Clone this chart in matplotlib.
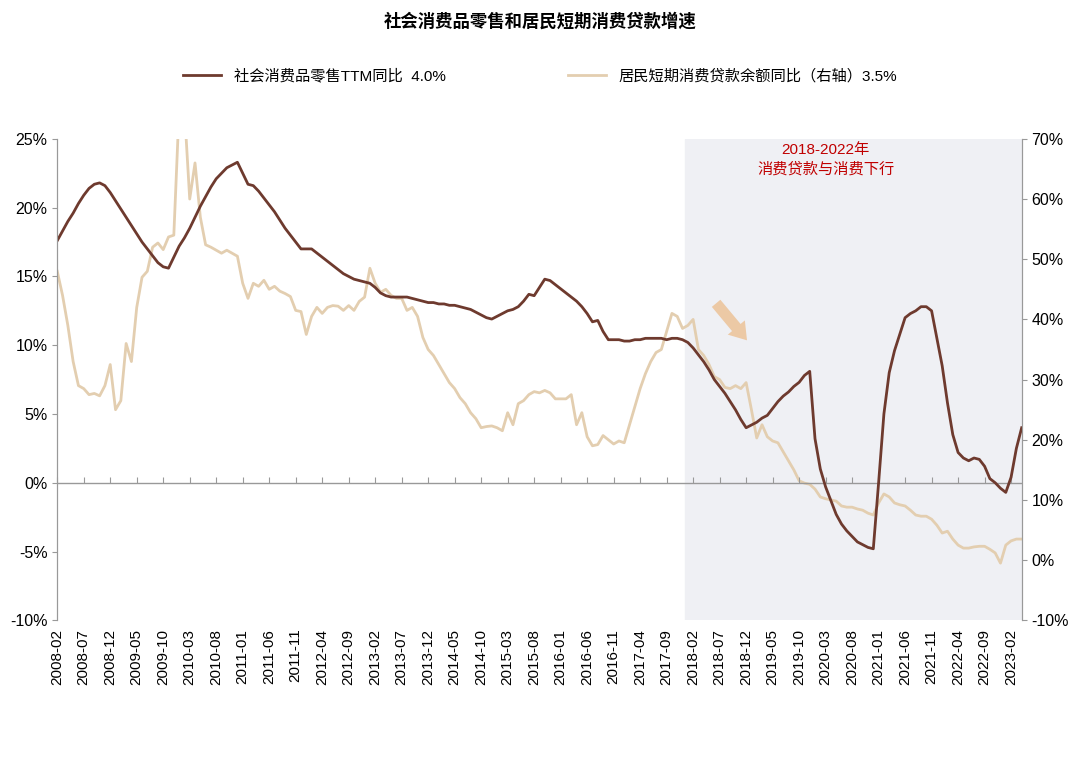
import matplotlib
matplotlib.use("Agg")
import matplotlib.pyplot as plt
import numpy as np

plt.rcParams["font.family"] = ["Liberation Sans", "Noto Sans CJK SC", "DejaVu Sans"]

# monthly, 2008-02 .. 2023-04
retail = [
    17.6, 18.3, 19.0, 19.6, 20.3, 20.9, 21.4, 21.7, 21.8, 21.6, 21.1,
    20.5, 19.9, 19.3, 18.7, 18.1, 17.5, 17.0, 16.5, 16.0, 15.7, 15.6, 16.4,
    17.2, 17.8, 18.5, 19.3, 20.1, 20.8, 21.5, 22.1, 22.5, 22.9, 23.1, 23.3,
    22.5, 21.7, 21.6, 21.2, 20.7, 20.2, 19.7, 19.1, 18.5, 18.0, 17.5, 17.0,
    17.0, 17.0, 16.7, 16.4, 16.1, 15.8, 15.5, 15.2, 15.0, 14.8, 14.7, 14.6,
    14.5, 14.2, 13.8, 13.6, 13.5, 13.5, 13.5, 13.5, 13.4, 13.3, 13.2, 13.1,
    13.1, 13.0, 13.0, 12.9, 12.9, 12.8, 12.7, 12.6, 12.4, 12.2, 12.0, 11.9,
    12.1, 12.3, 12.5, 12.6, 12.8, 13.2, 13.7, 13.6, 14.2, 14.8, 14.7, 14.4,
    14.1, 13.8, 13.5, 13.2, 12.8, 12.3, 11.7, 11.8, 11.0, 10.4, 10.4, 10.4,
    10.3, 10.3, 10.4, 10.4, 10.5, 10.5, 10.5, 10.5, 10.4, 10.5, 10.5, 10.4,
    10.2, 9.8, 9.3, 8.8, 8.2, 7.5, 7.0, 6.5, 5.9, 5.3, 4.6, 4.0,
    4.2, 4.4, 4.7, 4.9, 5.4, 5.9, 6.3, 6.6, 7.0, 7.3, 7.8, 8.1,
    3.2, 1.0, -0.3, -1.3, -2.3, -3.0, -3.5, -3.9, -4.3, -4.5, -4.7, -4.8,
    0.0, 5.0, 8.0, 9.6, 10.8, 12.0, 12.3, 12.5, 12.8, 12.8, 12.5, 10.5,
    8.5, 5.8, 3.5, 2.2, 1.8, 1.6, 1.8, 1.7, 1.2, 0.3, 0.0, -0.4,
    -0.7, 0.4, 2.5, 4.0,
]
loan = [
    48, 44, 39, 33, 29, 28.5, 27.5, 27.7, 27.3, 29, 32.5,
    25, 26.5, 36, 33, 42, 47, 48, 52, 52.7, 51.6, 53.7, 54,
    75, 75, 60, 66, 57, 52.4, 52, 51.5, 51, 51.5, 51, 50.5,
    46, 43.5, 46, 45.5, 46.5, 45, 45.5, 44.7, 44.3, 43.8, 41.5, 41.3,
    37.5, 40.5, 42, 41, 42, 42.3, 42.2, 41.5, 42.3, 41.5, 43, 43.7,
    48.5, 46, 44.5, 45, 44, 43.5, 43.5, 41.5, 42, 40.5, 37, 35,
    34, 32.5, 31, 29.5, 28.5, 27, 26, 24.5, 23.5, 22, 22.2, 22.3,
    22, 21.5, 24.5, 22.5, 26, 26.5, 27.5, 28, 27.8, 28.2, 27.8, 26.8,
    26.8, 26.8, 27.5, 22.5, 24.5, 20.5, 19, 19.2, 20.7, 20, 19.3, 19.8,
    19.5, 22.5, 25.5, 28.5, 31, 33, 34.5, 35, 38, 41, 40.5, 38.5,
    39, 40, 35, 34, 32.5, 30.5, 30, 28.7, 28.5, 29, 28.5, 29.5,
    25, 20.3, 22.5, 20.5, 19.8, 19.5, 18, 16.5, 15, 13.2, 12.8, 12.6,
    11.8, 10.5, 10.2, 10, 9.8, 9, 8.8, 8.8, 8.5, 8.3, 7.8, 7.5,
    9.5, 11, 10.5, 9.5, 9.2, 9, 8.3, 7.5, 7.3, 7.3, 6.8, 5.8,
    4.5, 4.8, 3.5, 2.5, 2, 2, 2.2, 2.3, 2.3, 1.8, 1.2, -0.5,
    2.5, 3.2, 3.5, 3.5,
]
months = []
for k in range(len(retail)):
    m = 1 + k  # months after 2008-01
    months.append(f"{2008 + m // 12}-{m % 12 + 1:02d}")

x = np.arange(len(retail))
dark = "#6e3a2e"
light = "#e3ceb0"

fig = plt.figure(figsize=(10.8, 7.63), dpi=100)
ax = fig.add_axes([0.053, 0.187, 0.893, 0.631])
ax2 = ax.twinx()

ax2.axvspan(118.5, len(x) - 1, color="#eff0f4", zorder=0)
ax.axhline(0, color="#999999", lw=1, zorder=1)
l2, = ax2.plot(x, loan, color=light, lw=2, zorder=2, label="居民短期消费贷款余额同比（右轴）3.5%")
l1, = ax.plot(x, retail, color=dark, lw=2, label="社会消费品零售TTM同比  4.0%")
ax.set_zorder(ax2.get_zorder() + 1)
ax.patch.set_visible(False)

ax.set_xlim(0, len(x) - 1)
ax.set_ylim(-10, 25)
ax2.set_ylim(-10, 70)
ax.set_yticks(range(-10, 26, 5))
ax.set_yticklabels([f"{v}%" for v in range(-10, 26, 5)])
ax2.set_yticks(range(-10, 71, 10))
ax2.set_yticklabels([f"{v}%" for v in range(-10, 71, 10)])

ticks = x[::5]
ax.set_xticks(ticks)
ax.set_xticklabels([months[i] for i in ticks], rotation=90)
ax.tick_params(axis="x", length=0, pad=6)
sec = ax.secondary_xaxis(10 / 35)
sec.set_xticks(ticks)
sec.set_xticklabels([])
sec.tick_params(axis="x", direction="in", length=4, color="#999999")
sec.spines["bottom"].set_visible(False)

for a in (ax, ax2):
    for s in ("top", "bottom"):
        a.spines[s].set_visible(False)
    a.spines["left"].set_color("#999999")
    a.spines["right"].set_color("#999999")
    a.tick_params(axis="y", labelsize=11.5, colors="black", color="#999999")
ax.tick_params(axis="x", labelsize=11)

ax.text(145, 23.5, "2018-2022年\n消费贷款与消费下行", color="#c00000",
        ha="center", va="center", fontsize=11, linespacing=1.4)
ax.annotate("", xy=(130.5, 10.2), xytext=(124, 13.2),
            arrowprops=dict(arrowstyle="simple,head_width=1.6,head_length=1.2,tail_width=0.8",
                            color="#ecc9a5", lw=0))

fig.text(0.5, 0.972, "社会消费品零售和居民短期消费贷款增速", ha="center", va="center",
         fontsize=12.5, fontweight="bold")
fig.legend(handles=[l1, l2], loc="center", bbox_to_anchor=(0.5, 0.9), ncol=2,
           frameon=False, fontsize=11, columnspacing=8, handlelength=2.5)

fig.savefig("out.png", dpi=100)
